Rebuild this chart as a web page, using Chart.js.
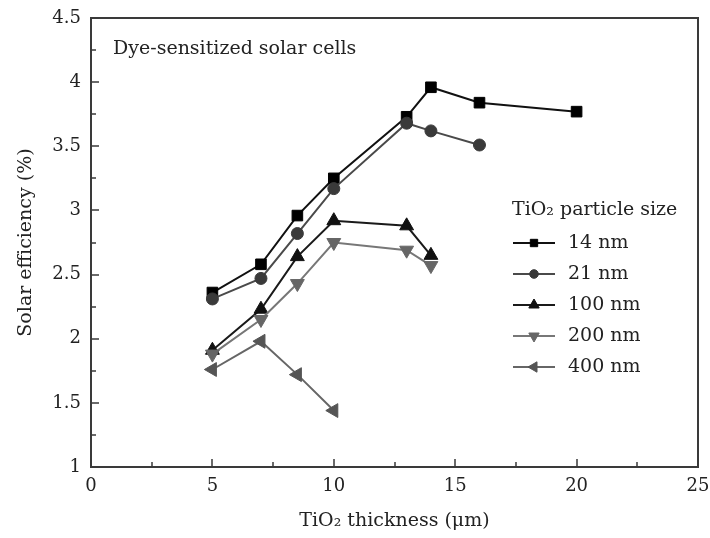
<!DOCTYPE html>
<html>
<head>
<meta charset="utf-8">
<script src="https://cdn.jsdelivr.net/npm/chart.js@4.4.1/dist/chart.umd.min.js"></script>
<style>
  html, body { margin: 0; padding: 0; background: #fff; }
</style>
</head>
<body>
<canvas id="myChart" width="710" height="538"></canvas>
<script>
// Толщина TiO2 (мкм) и КПД (%) для каждого размера частиц
var thickness14 = [5, 7, 8.5, 10, 13, 14, 16, 20];
var eff14 = [2.36, 2.58, 2.96, 3.25, 3.73, 3.96, 3.84, 3.77];

var thickness21 = [5, 7, 8.5, 10, 13, 14, 16];
var eff21 = [2.31, 2.47, 2.82, 3.17, 3.68, 3.62, 3.51];

var thickness100 = [5, 7, 8.5, 10, 13, 14];
var eff100 = [1.91, 2.23, 2.64, 2.92, 2.88, 2.65];

var thickness200 = [5, 7, 8.5, 10, 13, 14];
var eff200 = [1.88, 2.15, 2.43, 2.75, 2.69, 2.57];

var thickness400 = [5, 7, 8.5, 10];
var eff400 = [1.76, 1.98, 1.72, 1.44];

var seriesNames = ['14 nm', '21 nm', '100 nm', '200 nm', '400 nm'];
var xTickLabels = ['0', '5', '10', '15', '20', '25'];
var yTickLabels = ['1', '1.5', '2', '2.5', '3', '3.5', '4', '4.5'];

var FONT = "'DejaVu Serif', 'Liberation Serif', serif";

function pts(xs, ys) {
    return xs.map(function (x, i) { return { x: x, y: ys[i] }; });
}

// стиль серии: цвет линии, цвет маркера, форма, поворот, радиус
function series(name, xs, ys, line, marker, style, rot, r) {
    return {
        label: name,
        data: pts(xs, ys),
        borderColor: line,
        backgroundColor: marker,
        pointBackgroundColor: marker,
        pointBorderColor: marker,
        pointStyle: style,
        rotation: rot,
        pointRadius: r,
        pointHoverRadius: r,
        borderWidth: 2,
        pointBorderWidth: 1,
        tension: 0
    };
}

var datasets = [
    series(seriesNames[4], thickness400, eff400, '#666', '#555', 'triangle', -90, 8),
    series(seriesNames[3], thickness200, eff200, '#777', '#666', 'triangle', 180, 8),
    series(seriesNames[2], thickness100, eff100, '#1a1a1a', '#111', 'triangle', 0, 8),
    series(seriesNames[1], thickness21, eff21, '#4a4a4a', '#3a3a3a', 'circle', 0, 6),
    series(seriesNames[0], thickness14, eff14, '#111', '#000', 'rect', 0, 7.5)
];
// размеры маркеров в легенде
var legendRadius = { rect: 5.2, circle: 4.3, triangle: 6 };

// рамка, внутренние засечки, подпись и легенда
var decor = {
    id: 'decor',
    afterDraw: function (chart) {
        var ctx = chart.ctx, a = chart.chartArea;
        var sx = chart.scales.x, sy = chart.scales.y;
        ctx.save();
        ctx.strokeStyle = '#3a3a3a';
        ctx.lineWidth = 2;
        ctx.strokeRect(a.left, a.top, a.right - a.left, a.bottom - a.top);

        ctx.lineWidth = 1.5;
        ctx.beginPath();
        var v, p, len;
        for (v = 0; v <= 25; v += 2.5) {
            p = Math.round(sx.getPixelForValue(v));
            len = (v % 5 === 0) ? 8 : 5;
            ctx.moveTo(p, a.bottom);
            ctx.lineTo(p, a.bottom - len);
        }
        for (v = 1; v <= 4.5; v += 0.25) {
            p = Math.round(sy.getPixelForValue(v));
            len = (Math.abs(v * 2 - Math.round(v * 2)) < 1e-6) ? 8 : 5;
            ctx.moveTo(a.left, p);
            ctx.lineTo(a.left + len, p);
        }
        ctx.stroke();

        ctx.fillStyle = '#222';
        ctx.textBaseline = 'middle';
        ctx.textAlign = 'left';
        ctx.font = '19px ' + FONT;
        ctx.fillText('Dye-sensitized solar cells', 113, 49);

        // легенда
        ctx.fillText('TiO\u2082 particle size', 512, 210);
        var order = [4, 3, 2, 1, 0];
        order.forEach(function (di, i) {
            var ds = chart.data.datasets[di];
            var y = 243 + i * 31;
            ctx.strokeStyle = ds.borderColor;
            ctx.lineWidth = 2;
            ctx.beginPath();
            ctx.moveTo(513, y);
            ctx.lineTo(555, y);
            ctx.stroke();
            ctx.fillStyle = ds.pointBackgroundColor;
            ctx.strokeStyle = ds.pointBorderColor;
            ctx.lineWidth = 1;
            Chart.helpers.drawPoint(ctx, {
                pointStyle: ds.pointStyle,
                rotation: ds.rotation,
                radius: legendRadius[ds.pointStyle],
                borderWidth: 1
            }, 534, y);
            ctx.fillStyle = '#222';
            ctx.fillText(ds.label, 568, y);
        });
        ctx.restore();
    }
};

var ctx = document.getElementById('myChart').getContext('2d');
var myChart = new Chart(ctx, {
    type: 'line',
    data: { datasets: datasets },
    options: {
        responsive: false,
        animation: false,
        layout: { padding: { left: 0, right: 12, top: 18, bottom: 0 } },
        plugins: {
            legend: { display: false },
            tooltip: { enabled: false }
        },
        scales: {
            x: {
                type: 'linear',
                min: 0,
                max: 25,
                grid: { display: false, drawTicks: false },
                border: { display: false },
                ticks: {
                    stepSize: 5,
                    padding: 9,
                    color: '#222',
                    font: { family: FONT, size: 18 },
                    callback: function (val) { return xTickLabels[Math.round(val / 5)]; }
                },
                title: {
                    display: true,
                    text: 'TiO\u2082 thickness (\u03BCm)',
                    color: '#222',
                    font: { family: FONT, size: 19, lineHeight: 1.2 },
                    padding: { top: 0, bottom: 6 }
                },
                afterFit: function (s) {
                    s.height = 71;
                    s.paddingLeft = 0;
                    s.paddingRight = 0;
                }
            },
            y: {
                type: 'linear',
                min: 1,
                max: 4.5,
                grid: { display: false, drawTicks: false },
                border: { display: false },
                ticks: {
                    stepSize: 0.5,
                    padding: 10,
                    color: '#222',
                    font: { family: FONT, size: 18 },
                    callback: function (val) { return yTickLabels[Math.round((val - 1) * 2)]; }
                },
                title: {
                    display: true,
                    text: 'Solar efficiency (%)',
                    color: '#222',
                    font: { family: FONT, size: 19, lineHeight: 1.2 },
                    padding: { top: 15, bottom: 0 }
                },
                afterFit: function (s) {
                    s.width = 91;
                    s.paddingTop = 0;
                    s.paddingBottom = 0;
                }
            }
        }
    },
    plugins: [decor]
});
</script>
</body>
</html>
